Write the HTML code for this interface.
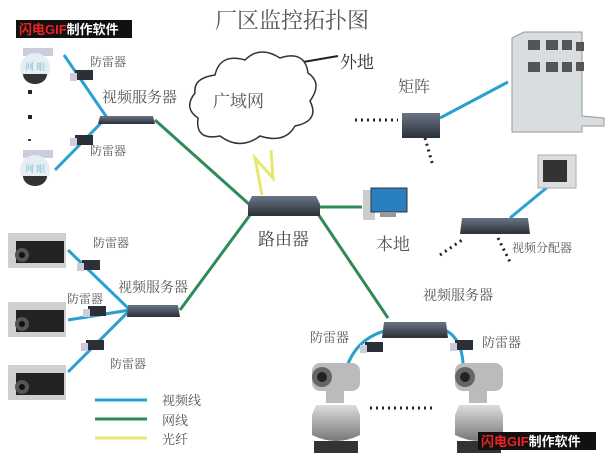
<!DOCTYPE html>
<html><head><meta charset="utf-8"><style>
html,body{margin:0;padding:0;background:#fff;width:613px;height:470px;overflow:hidden}
svg text{font-family:"Liberation Serif","Noto Serif CJK SC",serif;fill:#555}
</style></head><body>
<svg width="613" height="470" viewBox="0 0 613 470" xmlns="http://www.w3.org/2000/svg">
<defs>
<linearGradient id="dev" x1="0" y1="0" x2="0" y2="1"><stop offset="0" stop-color="#6a7585"/><stop offset="1" stop-color="#2a3038"/></linearGradient>
<linearGradient id="cam" x1="0" y1="0" x2="0" y2="1"><stop offset="0" stop-color="#ddd"/><stop offset="1" stop-color="#777"/></linearGradient>
<g id="lp"><rect x="0" y="0" width="18" height="10" fill="#2a2f38"/><rect x="-5" y="3" width="7" height="8" fill="#ccd"/></g>
<g id="dome"><rect x="5" y="0" width="30" height="8" fill="#ccd"/><circle cx="17" cy="20" r="15" fill="#e6eef3"/><path d="M5 26 a12 10 0 0 0 24 0z" fill="#333"/><text x="7" y="22" font-size="9" style="fill:#7bc">网 眼</text></g>
<g id="box"><rect x="0" y="0" width="58" height="35" fill="#cfcfcf"/><rect x="8" y="8" width="48" height="22" fill="#222"/><circle cx="14" cy="22" r="7" fill="#555"/><circle cx="14" cy="22" r="3" fill="#111"/></g>
<g id="ptz"><rect x="0" y="0" width="48" height="28" rx="8" fill="#bbb"/><circle cx="10" cy="14" r="10" fill="#666"/><circle cx="10" cy="14" r="5" fill="#222"/><rect x="14" y="28" width="18" height="12" fill="#bbb"/><path d="M4 42 h40 l4 10 v20 q-24 12 -48 0 v-20z" fill="url(#cam)"/><rect x="2" y="78" width="44" height="12" fill="#333"/></g>
</defs>

<text x="215" y="28" font-size="22">厂区监控拓扑图</text>

<g stroke="#2e8b57" stroke-width="3" fill="none">
<line x1="155" y1="120" x2="250" y2="205"/>
<line x1="180" y1="310" x2="250" y2="215"/>
<line x1="318" y1="207" x2="362" y2="207"/>
<line x1="318" y1="214" x2="388" y2="318"/>
</g>
<g stroke="#2aa0d0" stroke-width="3" fill="none">
<line x1="64" y1="55" x2="110" y2="122"/>
<line x1="55" y1="170" x2="102" y2="122"/>
<line x1="68" y1="250" x2="130" y2="310"/>
<line x1="68" y1="320" x2="130" y2="310"/>
<line x1="68" y1="372" x2="130" y2="310"/>
<line x1="440" y1="118" x2="508" y2="82"/>
<line x1="510" y1="218" x2="550" y2="185"/>
<path d="M388 330 q-40 10 -45 55"/>
<path d="M445 330 q20 10 18 45"/>
</g>
<polyline points="262,195 255,158 273,178 271,150" fill="none" stroke="#e8e870" stroke-width="3"/>
<line x1="280" y1="66" x2="338" y2="56" stroke="#222" stroke-width="2"/>
<g stroke="#222" stroke-width="3" stroke-dasharray="2 4">
<line x1="355" y1="120" x2="398" y2="120"/>
<line x1="425" y1="138" x2="433" y2="166"/>
<line x1="440" y1="255" x2="462" y2="240"/>
<line x1="498" y1="238" x2="510" y2="262"/>
<line x1="370" y1="408" x2="432" y2="408"/>
</g>
<rect x="28" y="90" width="4" height="4" fill="#222"/>
<rect x="28" y="115" width="4" height="4" fill="#222"/>
<rect x="28" y="139" width="3" height="2" fill="#444"/>

<path d="M215 75 q5 -22 30 -15 q15 -15 35 -2 q25 -8 28 15 q15 10 2 28 q10 20 -15 25 q-10 18 -35 10 q-20 15 -40 0 q-25 5 -22 -18 q-15 -10 -3 -25 q-2 -15 20 -18z" fill="#fff" stroke="#333" stroke-width="1.5"/>
<text x="213" y="107" font-size="17">广域网</text>
<text x="340" y="68" font-size="17" style="fill:#333">外地</text>

<path d="M252 196 h64 l4 8 v12 h-72 v-12z" fill="url(#dev)"/>
<text x="258" y="245" font-size="17" style="fill:#444">路由器</text>

<rect x="363" y="190" width="12" height="30" fill="#ccc"/>
<rect x="371" y="188" width="36" height="24" fill="#2a7fc0" stroke="#333"/>
<rect x="380" y="212" width="16" height="5" fill="#999"/>
<text x="376" y="250" font-size="17">本地</text>

<text x="398" y="92" font-size="16">矩阵</text>
<rect x="402" y="113" width="38" height="25" fill="url(#dev)"/>
<path d="M512 38 l12 -6 h58 v84 l22 2 v8 h-22 v6 h-70z" fill="#d8dde0" stroke="#999"/>
<g fill="#555"><rect x="528" y="40" width="12" height="10"/><rect x="546" y="40" width="12" height="10"/><rect x="562" y="40" width="10" height="10"/><rect x="576" y="42" width="8" height="9"/>
<rect x="528" y="62" width="12" height="10"/><rect x="546" y="62" width="12" height="10"/><rect x="562" y="62" width="10" height="10"/><rect x="576" y="62" width="8" height="9"/></g>

<rect x="538" y="155" width="38" height="33" fill="#ddd" stroke="#aaa"/>
<rect x="543" y="160" width="24" height="22" fill="#333"/>
<path d="M462 218 h66 l2 16 h-70z" fill="url(#dev)"/>
<text x="512" y="252" font-size="12">视频分配器</text>

<use href="#dome" x="18" y="48"/>
<use href="#dome" x="18" y="150"/>
<use href="#lp" x="75" y="70"/>
<use href="#lp" x="75" y="135"/>
<text x="90" y="66" font-size="12">防雷器</text>
<text x="90" y="155" font-size="12">防雷器</text>
<text x="102" y="102" font-size="15">视频服务器</text>
<path d="M100 116 h53 l2 8 h-57z" fill="url(#dev)"/>

<use href="#box" x="8" y="233"/>
<use href="#box" x="8" y="302"/>
<use href="#box" x="8" y="365"/>
<use href="#lp" x="82" y="260"/>
<use href="#lp" x="88" y="306"/>
<use href="#lp" x="86" y="340"/>
<text x="93" y="247" font-size="12">防雷器</text>
<text x="67" y="303" font-size="12">防雷器</text>
<text x="110" y="368" font-size="12">防雷器</text>
<text x="118" y="292" font-size="14">视频服务器</text>
<path d="M128 305 h50 l2 12 h-53z" fill="url(#dev)"/>

<line x1="95" y1="400" x2="147" y2="400" stroke="#2aa0d0" stroke-width="3"/>
<line x1="95" y1="419" x2="147" y2="419" stroke="#2e8b57" stroke-width="3"/>
<line x1="95" y1="438" x2="147" y2="438" stroke="#e8e870" stroke-width="3"/>
<text x="162" y="405" font-size="13">视频线</text>
<text x="162" y="425" font-size="13">网线</text>
<text x="162" y="444" font-size="13">光纤</text>

<text x="423" y="300" font-size="14">视频服务器</text>
<path d="M384 322 h62 l2 16 h-66z" fill="url(#dev)"/>
<use href="#lp" x="365" y="342"/>
<use href="#lp" x="455" y="340"/>
<text x="310" y="342" font-size="13">防雷器</text>
<text x="482" y="347" font-size="13">防雷器</text>
<use href="#ptz" x="312" y="363"/>
<use href="#ptz" x="455" y="363"/>

<rect x="16" y="20" width="116" height="18" fill="#111"/>
<text x="19" y="34" font-size="13" style="fill:#e22;font-family:'Liberation Sans','Noto Sans CJK SC',sans-serif;font-weight:bold">闪电GIF<tspan style="fill:#fff">制作软件</tspan></text>
<rect x="478" y="432" width="118" height="18" fill="#111"/>
<text x="481" y="446" font-size="13" style="fill:#e22;font-family:'Liberation Sans','Noto Sans CJK SC',sans-serif;font-weight:bold">闪电GIF<tspan style="fill:#fff">制作软件</tspan></text>
</svg>
</body></html>
